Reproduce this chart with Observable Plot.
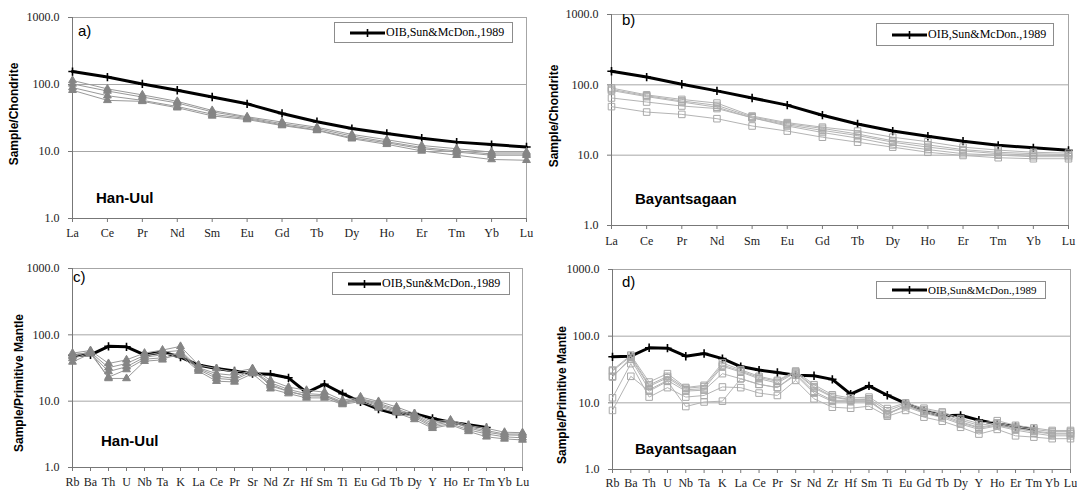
<!DOCTYPE html>
<html><head><meta charset="utf-8">
<script src="https://cdn.jsdelivr.net/npm/d3@7"></script>
<script src="https://cdn.jsdelivr.net/npm/@observablehq/plot@0.6"></script>
<style>
body{margin:0;background:#fff;}
#root{position:relative;width:1077px;height:490px;overflow:hidden;background:#fff;}
.panel{position:absolute;}
.panel svg{overflow:visible;background:transparent;}
.txt{position:absolute;white-space:nowrap;color:#000;line-height:1;}
.sans{font-family:"Liberation Sans",Arial,sans-serif;}
.ytitle{position:absolute;white-space:nowrap;font-family:"Liberation Sans",Arial,sans-serif;font-weight:bold;font-size:12px;line-height:1;transform:translate(-50%,-50%) rotate(-90deg);}
.legend{position:absolute;box-sizing:border-box;border:1px solid #8c8c8c;background:#fff;display:flex;align-items:center;font-family:"Liberation Serif","Times New Roman",serif;font-size:12px;}
</style></head><body><div id="root"></div>
<script>
// ---------- data ----------
const reeElements = ["La","Ce","Pr","Nd","Sm","Eu","Gd","Tb","Dy","Ho","Er","Tm","Yb","Lu"];
const spiderElements = ["Rb","Ba","Th","U","Nb","Ta","K","La","Ce","Pr","Sr","Nd","Zr","Hf","Sm","Ti","Eu","Gd","Tb","Dy","Y","Ho","Er","Tm","Yb","Lu"];
const yTicks = [1, 10, 100, 1000];
const legendLabel = "OIB,Sun&McDon.,1989";

const oibChondrite = [156, 129, 102, 82, 65, 51.5, 37, 27.8, 22, 18.6, 15.8, 13.8, 12.7, 11.7];
const oibMantle = [49, 50, 67, 66, 50, 55, 46, 35, 31, 28.5, 26, 25.5, 22.5, 13.5, 18, 13, 9.8, 7.6, 6.4, 6.5, 5.5, 4.8, 4.4, 4.0, null, null];

const hanUulChondrite = [
  [115, 86, 70, 56, 41, 33, 27.5, 23, 18, 15, 12.3, 11, 9.8, 9.8],
  [102, 80, 65, 53, 39, 32, 26, 22, 17, 14, 11.5, 10.2, 9.2, 9.2],
  [90, 68, 58, 47, 36, 31, 25, 21, 16, 13.5, 11, 9.8, 8.8, 8.8],
  [82, 58, 56, 45, 34, 30, 24.4, 20.6, 15.5, 12.8, 10.2, 8.8, 7.6, 7.4]
];
const bayantsagaanChondrite = [
  [90, 72, 62, 55, 36, 29, 25, 22, 18, 15.5, 13, 11.8, 11, 10.7],
  [86, 70, 59, 51, 35, 28, 24, 20, 16, 14, 12, 11, 10.5, 10.2],
  [83, 68, 57, 48, 34, 27, 22.5, 19, 15.3, 13, 11.5, 10.5, 10, 9.9],
  [65, 57, 50, 46, 34, 26, 21, 17.5, 14, 12, 10.5, 10, 9.5, 9.5],
  [49, 41, 38, 33, 26, 22, 18, 15.3, 13, 11, 9.9, 9.2, 8.9, 8.9]
];
const hanUulMantle = [
  [53, 58, 37, 42, 53, 59, 67, 35, 31, 27.5, 31, 20.6, 16.3, 14.6, 13.7, 10.3, 11.6, 9.9, 8.2, 6.5, 4.9, 5.2, 4.3, 3.9, 3.4, 3.35],
  [49, 55, 32, 37, 49, 55, 58, 32, 26, 24.5, 29, 19, 15, 13, 12.5, 9.8, 11, 9.3, 7.6, 6.2, 4.6, 5.0, 4.1, 3.6, 3.2, 3.2],
  [44, 53, 28, 33, 46, 50, 52, 30, 22, 21, 28, 18, 14, 12.2, 12, 9.5, 10.7, 8.9, 7.3, 6.0, 4.3, 4.9, 3.95, 3.4, 3.1, 3.06],
  [39, 52, 23, 30, 43, 45, 49, 28.4, 20, 19.5, 26, 15.4, 13, 11.2, 11.2, 8.9, 9.9, 7.9, 6.7, 5.3, 3.9, 4.4, 3.5, 2.9, 2.7, 2.6],
  [47, 56, 22, 22, 40, 42, 55, 31, 24, 22, 30, 17, 14, 12, 12, 9.2, 10.4, 8.5, 7, 5.7, 4.1, 4.6, 3.7, 3.2, 2.9, 2.8]
];
const bayantsagaanMantle = [
  [31, 52, 20.5, 27.4, 17, 18.3, 39.6, 31.4, 25, 21.7, 30, 18.7, 13.2, 11.8, 12.2, 8.2, 10, 8.3, 7.3, 5.8, 4.9, 5.4, 4.6, 4.2, 3.85, 3.85],
  [30, 50, 18.5, 25, 16.5, 17.5, 37, 30, 24, 21, 29, 17.5, 12.5, 11.2, 11.5, 7.6, 9.6, 7.9, 7.0, 5.5, 4.6, 5.0, 4.4, 4.0, 3.7, 3.7],
  [24.4, 47.6, 17.7, 23.8, 15.7, 16.3, 35.3, 29, 23, 19.8, 28.5, 16.7, 12.2, 11, 11.3, 6.6, 9.3, 7.5, 6.6, 5.2, 4.3, 4.8, 4.2, 3.8, 3.5, 3.5],
  [25, 45, 15.7, 21.7, 15, 15.5, 27.4, 23, 18.9, 16.9, 27.4, 14.9, 10.9, 10.9, 10.9, 6.9, 9.1, 7.3, 6.3, 5.0, 4.2, 4.6, 4.1, 3.7, 3.4, 3.4],
  [11.9, 38.7, 12.2, 16.9, 12.2, 12.9, 17.3, 16.9, 14, 12.9, 21.7, 11.5, 8.6, 8.3, 8.9, 6.3, 7.7, 6.1, 5.3, 4.3, 3.4, 4.0, 3.2, 3.06, 2.9, 2.9],
  [7.7, 25, 15, 21, 8.8, 10.3, 10.6, 23, 19, 17, 26, 14, 10.5, 10.5, 10.5, 6.8, 8.8, 7, 6, 4.8, 4.0, 4.5, 3.9, 3.5, 3.2, 3.2]
];

// ---------- drawing ----------
const root = document.getElementById("root");
function rowsOf(elements, values, s) {
  return values.map((v, i) => ({el: elements[i], v, s})).filter(d => d.v != null);
}
function addText(cls, text, left, top, style) {
  const d = document.createElement("div");
  d.className = cls; d.textContent = text;
  d.style.left = left + "px"; d.style.top = top + "px";
  Object.assign(d.style, style || {});
  root.appendChild(d);
  return d;
}
function addLegend(l, t, w, h, lineW, fs) {
  const box = document.createElement("div");
  box.className = "legend";
  Object.assign(box.style, {left: l + "px", top: t + "px", width: w + "px", height: h + "px", paddingLeft: "15px", fontSize: fs + "px"});
  const ns = "http://www.w3.org/2000/svg";
  const s = document.createElementNS(ns, "svg");
  s.setAttribute("width", lineW); s.setAttribute("height", 10);
  s.style.flex = "none";
  const ln = document.createElementNS(ns, "line");
  ln.setAttribute("x1", 0); ln.setAttribute("x2", lineW); ln.setAttribute("y1", 5); ln.setAttribute("y2", 5);
  ln.setAttribute("stroke", "#000"); ln.setAttribute("stroke-width", 3);
  const tk = document.createElementNS(ns, "line");
  tk.setAttribute("x1", lineW / 2); tk.setAttribute("x2", lineW / 2); tk.setAttribute("y1", 1); tk.setAttribute("y2", 9);
  tk.setAttribute("stroke", "#000"); tk.setAttribute("stroke-width", 1.6);
  s.appendChild(ln); s.appendChild(tk);
  const sp = document.createElement("span");
  sp.textContent = legendLabel; sp.style.marginLeft = "1px";
  box.appendChild(s); box.appendChild(sp);
  root.appendChild(box);
}
function panel(cfg) {
  const sampleRows = cfg.samples.flatMap((vals, k) => rowsOf(cfg.elements, vals, k));
  const oibRows = rowsOf(cfg.elements, cfg.oib, "oib");
  const svg = Plot.plot({
    width: cfg.width, height: cfg.height,
    marginLeft: cfg.m[0], marginRight: cfg.m[1], marginTop: cfg.m[2], marginBottom: cfg.m[3],
    x: {type: "point", domain: cfg.elements, padding: 0, round: false, label: null},
    y: {type: "log", domain: [1, 1000], label: null},
    style: {fontFamily: "'Liberation Serif','Times New Roman',serif", fontSize: "12px", background: "transparent", overflow: "visible", color: "#222"},
    marks: [
      Plot.ruleY([10, 100], {stroke: "#a6a6a6", strokeWidth: 1}),
      Plot.frame({stroke: "#a6a6a6"}),
      Plot.axisY({ticks: yTicks, tickFormat: d => d.toFixed(1), tickSize: 4, tickPadding: 9, stroke: "#777", fill: "#222", label: null}),
      Plot.axisX({tickSize: 4, tickPadding: cfg.xPad, stroke: "#777", fill: "#222", label: null}),
      Plot.ruleX([cfg.elements[0]], {stroke: "#777"}),
      Plot.ruleY([1], {stroke: "#777"}),
      Plot.line(oibRows, {x: "el", y: "v", stroke: "#000", strokeWidth: 3}),
      Plot.dot(oibRows, {x: "el", y: "v", symbol: "plus", r: 2.8, stroke: "#000", strokeWidth: 1.6}),
      Plot.line(sampleRows, {x: "el", y: "v", z: "s", stroke: cfg.lineColor, strokeWidth: 1}),
      Plot.dot(sampleRows, {x: "el", y: "v", symbol: cfg.symbol, r: cfg.r, fill: cfg.fill, stroke: cfg.markStroke, strokeWidth: 1})
    ]
  });
  const div = document.createElement("div");
  div.className = "panel";
  Object.assign(div.style, {left: cfg.left + "px", top: cfg.top + "px", width: cfg.width + "px", height: cfg.height + "px"});
  div.appendChild(svg);
  root.appendChild(div);
}

const tri = {symbol: "triangle", r: 2.9, fill: "#858585", markStroke: "#858585", lineColor: "#999"};
const sq = {symbol: "square", r: 3.7, fill: "none", markStroke: "#a8a8a8", lineColor: "#b4b4b4"};

panel({left: 0, top: 0, width: 540, height: 245, m: [72, 14, 17, 27], xPad: 6, elements: reeElements, oib: oibChondrite, samples: hanUulChondrite, ...tri});
panel({left: 540, top: 0, width: 537, height: 250, m: [71, 9, 14, 25], xPad: 7, elements: reeElements, oib: oibChondrite, samples: bayantsagaanChondrite, ...sq});
panel({left: 0, top: 245, width: 540, height: 245, m: [72, 18, 23, 23], xPad: 6, elements: spiderElements, oib: oibMantle, samples: hanUulMantle, ...tri});
panel({left: 540, top: 245, width: 537, height: 245, m: [72, 7, 24, 21], xPad: 5, elements: spiderElements, oib: oibMantle, samples: bayantsagaanMantle, ...sq});

// legends
addLegend(334, 22, 179, 21, 35, 12);
addLegend(876, 23, 178, 23, 35, 12);
addLegend(332, 272, 178, 23, 33, 12);
addLegend(876, 281, 170, 18, 35, 11);

// panel letters
addText("txt sans", "a)", 78, 23, {fontSize: "15px"});
addText("txt sans", "b)", 622, 12, {fontSize: "15px"});
addText("txt sans", "c)", 73, 269, {fontSize: "15px"});
addText("txt sans", "d)", 622, 274, {fontSize: "15px"});

// locality names
addText("txt sans", "Han-Uul", 96, 190, {fontSize: "15px", fontWeight: "bold"});
addText("txt sans", "Bayantsagaan", 635, 191, {fontSize: "15px", fontWeight: "bold"});
addText("txt sans", "Han-Uul", 101, 433, {fontSize: "15px", fontWeight: "bold"});
addText("txt sans", "Bayantsagaan", 635, 441, {fontSize: "15px", fontWeight: "bold"});

// y titles
addText("ytitle", "Sample/Chondrite", 14, 114);
addText("ytitle", "Sample/Chondrite", 554, 116);
addText("ytitle", "Sample/Primitive Mantle", 19, 383);
addText("ytitle", "Sample/Primitive Mantle", 562, 395);
</script></body></html>
